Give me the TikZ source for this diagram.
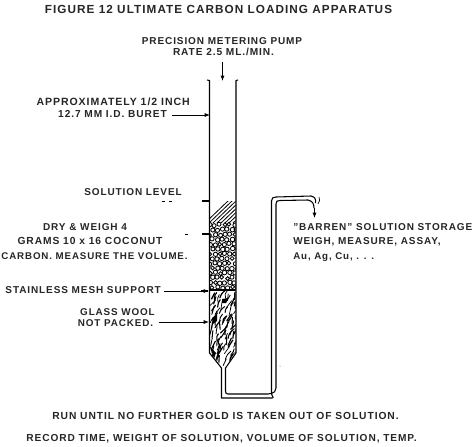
\documentclass[tikz,border=0pt]{standalone}
\usepackage{fontspec}
\setmainfont[LetterSpace=9]{Liberation Sans}
\usetikzlibrary{arrows.meta}
\tikzset{
  lab/.style={inner sep=0pt,font=\fontsize{#1pt}{9pt}\selectfont\bfseries,text=black!85},
  lab/.default=7.5,
  glass/.style={line width=0.8pt,line join=round},
  lead/.style={line width=0.6pt,-{Latex[length=4pt,width=3pt]}},
  tick/.style={line width=1pt},
}
\pgfmathsetseed{1234}
\begin{document}
\begin{tikzpicture}[x=0.75pt,y=-0.75pt]
\useasboundingbox (0,0) rectangle (473,446);
\fill[white] (0,0) rectangle (473,446);
% title
\node[lab=8.8,anchor=center] (title) at (218.5,9) {FIGURE 12 ULTIMATE CARBON LOADING APPARATUS};
\node[lab,anchor=center] (pump1) at (222,41) {PRECISION METERING PUMP};
\node[lab=7.6,anchor=center] (pump2) at (223.5,52) {RATE 2.5 ML./MIN.};
\coordinate (pumpa) at (222.5,62);
\coordinate (pumpb) at (222.5,81);
\draw[lead] (pumpa) -- (pumpb);
% labels
\node[lab=7.9,anchor=east] (ap1) at (190,102) {APPROXIMATELY 1/2 INCH};
\node[lab=7.6,anchor=east] (ap2) at (167,114) {12.7 MM I.D. BURET};
\coordinate (apb) at (210,115);
\draw[lead] (ap2.east)++(5,1) -- (apb);
\node[lab,anchor=east] (lev) at (182,192) {SOLUTION LEVEL};
\draw[line width=.6pt] (162,201) -- (165,201) (169,201) -- (172,201);
\coordinate (leva) at (202,201); \coordinate (levb) at (209,201);
\draw[tick] (leva) -- (levb);
\node[lab,anchor=center] (dry1) at (85,227) {DRY \& WEIGH 4};
\node[lab=7.7,anchor=center] (dry2) at (90,241) {GRAMS 10 x 16 COCONUT};
\node[lab=7.3,anchor=center] (dry3) at (94.5,256) {CARBON. MEASURE THE VOLUME.};
\draw[line width=.6pt] (185,234) -- (188,234);
\coordinate (cara) at (202,234); \coordinate (carb) at (209,234);
\draw[tick] (cara) -- (carb);
\node[lab,anchor=east] (mesh) at (161,290) {STAINLESS MESH SUPPORT};
\coordinate (meshb) at (209,291);
\draw[lead] (mesh.east)++(3,1) -- (meshb);
\draw[line width=1.6pt] (201,291) -- (208,291);
\node[lab=7.4,anchor=center] (wool1) at (117.5,312) {GLASS WOOL};
\node[lab=7.4,anchor=center] (wool2) at (115.5,323) {NOT PACKED.};
\coordinate (woolb) at (209,322);
\draw[lead] (wool2.east)++(6,-1) -- (woolb);
% packing
\begin{scope}
\clip (209.5,201) -- (235.5,201) -- (235.5,353) -- (227,366) -- (222,366) -- (209.5,353) -- cycle;
\foreach \k in {-4,0,...,44} \draw[line width=.6pt] (209+\k,223) -- (209+\k+24,200);
\fill[white] (209,223) rectangle (236,290);
\foreach \r in {0,...,13} \foreach \c in {0,...,5} {
  \pgfmathsetmacro{\px}{210+4.9*\c+mod(\r,2)*2.4+rand*0.8}
  \pgfmathsetmacro{\py}{225+4.8*\r+rand*0.8}
  \pgfmathsetmacro{\pr}{1.9+0.4*rnd}
  \draw[line width=.65pt] (\px,\py) circle[radius=\pr];
}
\fill[white] (209,289) rectangle (236,370);
\draw[line width=.8pt] (209,290) -- (236,290);
\foreach \r in {0,...,13} \foreach \c in {0,...,5} {
  \pgfmathsetmacro{\ax}{211+4.6*\c+rand*2}
  \pgfmathsetmacro{\ay}{299+5*\r+rand*2}
  \pgfmathsetmacro{\bx}{\ax+1+2*rand}
  \pgfmathsetmacro{\by}{\ay-3-2*rnd}
  \pgfmathsetmacro{\cx}{\bx+2+2*rand}
  \pgfmathsetmacro{\cy}{\by-2-2*rnd}
  \pgfmathsetmacro{\lw}{0.5+0.5*rnd}
  \draw[line width=\lw pt,line cap=round] (\ax,\ay) .. controls (\bx,\by) .. (\cx,\cy);
}
\fill (209,345) -- (216,353) -- (214,358) -- cycle;
\fill (222,299) -- (228,298) -- (226,303) -- (222,303) -- cycle;
\fill (212,318) -- (217,314) -- (217,321) -- (213,324) -- cycle;
\end{scope}
% buret
\draw[glass] (207,80) -- (209.5,80.5) -- (209.5,353) -- (221.5,368) -- (221.5,398) -- (272,398) .. controls (275,398) and (271,396) .. (271.5,392) -- (271.5,201) .. controls (271.5,198) and (273,197) .. (276,197) -- (311,196) .. controls (315,197) and (316,199) .. (315.5,203);
\draw[glass] (238,80) -- (236,80.5) -- (236,353) -- (225.5,368) -- (225.5,391) .. controls (225.5,393) and (226,394) .. (228,394) -- (268,394) .. controls (275,393) and (276,391) .. (276,388) -- (276,204) .. controls (276,201) and (277,200.5) .. (280,200.5) -- (308,200) .. controls (312,201) and (314,203) .. (314,208);
\coordinate (outa) at (314.5,208);
\coordinate (outb) at (314.5,218);
\draw[lead] (outa) -- (outb);
\draw[line width=.5pt] (319,197) .. controls (320,199) and (320,202) .. (318,204);
\fill[black!60] (280,366) circle[radius=.5];
% right text
\node[lab,anchor=west] (bar1) at (293,227) {"BARREN" SOLUTION STORAGE};
\node[lab,anchor=west] (bar2) at (293,242) {WEIGH, MEASURE, ASSAY,};
\node[lab=7.3,anchor=west] (bar3) at (293,257) {Au, Ag, Cu, . . .};
% bottom
\node[lab=7.7,anchor=center] (run) at (225.5,416) {RUN UNTIL NO FURTHER GOLD IS TAKEN OUT OF SOLUTION.};
\node[lab=7.6,anchor=center] (rec) at (221.5,439) {RECORD TIME, WEIGHT OF SOLUTION, VOLUME OF SOLUTION, TEMP.};
\end{tikzpicture}
\end{document}
